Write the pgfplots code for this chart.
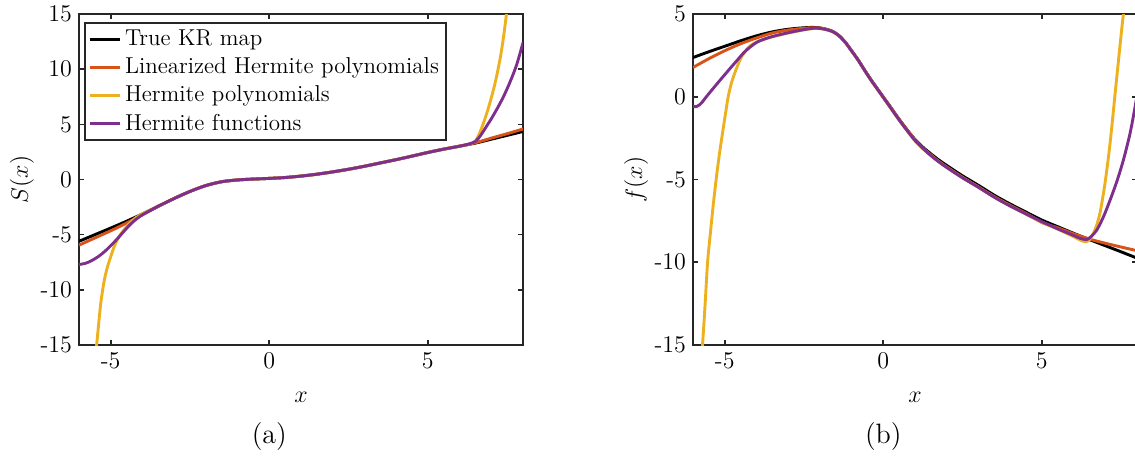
\documentclass[border=0pt]{standalone}
\usepackage{pgfplots}
\pgfplotsset{compat=1.18}

\definecolor{mblack}{rgb}{0,0,0}
\definecolor{morange}{rgb}{0.850,0.325,0.098}
\definecolor{myellow}{rgb}{0.929,0.694,0.125}
\definecolor{mpurple}{rgb}{0.494,0.184,0.556}
\definecolor{axgray}{rgb}{0.15,0.15,0.15}

\pgfplotsset{
  panel/.style={
    scale only axis,
    width=222pt, height=165.5pt,
    xmin=-6, xmax=8,
    xtick={-5,0,5}, xticklabels={-5,0,5},
    tick align=inside,
    major tick length=2.6pt,
    axis line style={draw=axgray, line width=0.8pt},
    every tick/.style={draw=axgray, line width=0.8pt},
    tick label style={font=\fontsize{12}{14}\selectfont},
    label style={font=\fontsize{12}{14}\selectfont},
    xlabel={$x$},
    xlabel style={at={(axis description cs:0.5,0)}, anchor=center, yshift=-26pt},
    ylabel style={at={(axis description cs:0,0.5)}, anchor=center, yshift=28.5pt},
    clip mode=individual,
    every axis plot/.append style={line width=1.45pt, line join=round, smooth, tension=0.5},
    legend image code/.code={\draw[#1, sharp plot] (0pt,0pt) -- (15pt,0pt);},
  },
}

\begin{document}
\begin{tikzpicture}
\useasboundingbox (-39.5pt,-56pt) rectangle (528pt,172.5pt);
\clip (-39.5pt,-56pt) rectangle (528pt,172.5pt);

% ---------------- (a) the map S(x) ----------------
\begin{axis}[panel, at={(0pt,0pt)}, anchor=south west,
  ymin=-15, ymax=15,
  ytick={-15,-10,-5,0,5,10,15}, yticklabels={-15,-10,-5,0,5,10,15},
  ylabel={$S(x)$},
  legend cell align=left,
  legend style={at={(0.012,0.976)}, anchor=north west,
    draw=axgray, line width=0.8pt, inner sep=1.5pt,
    font=\fontsize{11.5}{13}\selectfont, row sep=0.6pt},
]
\addplot[mblack] coordinates {
(-6,-5.6) (-5.5,-5.0) (-5,-4.4) (-4.5,-3.78) (-4,-3.12) (-3.5,-2.42) (-3,-1.72)
(-2.5,-1.08) (-2,-0.55) (-1.5,-0.2) (-1,-0.04) (-0.5,0.04) (0,0.1) (0.5,0.18)
(1,0.31) (1.5,0.48) (2,0.69) (2.5,0.93) (3,1.2) (3.5,1.5) (4,1.8) (4.5,2.12)
(5,2.45) (5.5,2.75) (6,3.02) (6.5,3.3) (7,3.65) (7.5,4.0) (8,4.35)};
\addlegendentry{True KR map}

\addplot[morange] coordinates {
(-6,-5.95) (-5.5,-5.3) (-5,-4.65) (-4.5,-3.95) (-4,-3.2) (-3.5,-2.44) (-3,-1.72)
(-2.5,-1.08) (-2,-0.55) (-1.5,-0.2) (-1,-0.04) (-0.5,0.04) (0,0.1) (0.5,0.18)
(1,0.31) (1.5,0.48) (2,0.69) (2.5,0.93) (3,1.2) (3.5,1.5) (4,1.8) (4.5,2.12)
(5,2.45) (5.5,2.75) (6,3.03) (6.5,3.33) (7,3.75) (7.5,4.15) (8,4.58)};
\addlegendentry{Linearized Hermite polynomials}

\addplot[myellow] coordinates {
(-5.47,-15.8) (-5.44,-14.9) (-5.35,-12.2) (-5.3,-10.9) (-5.2,-9.1) (-5.1,-7.9)
(-5.0,-7.0) (-4.9,-6.15) (-4.8,-5.5) (-4.7,-5.02) (-4.6,-4.62) (-4.5,-4.27)
(-4.4,-3.96) (-4.3,-3.68) (-4.2,-3.45) (-4.1,-3.27) (-4,-3.12) (-3.5,-2.42) (-3,-1.72)
(-2.5,-1.08) (-2,-0.55) (-1.5,-0.2) (-1,-0.04) (-0.5,0.04) (0,0.1) (0.5,0.18)
(1,0.31) (1.5,0.48) (2,0.69) (2.5,0.93) (3,1.2) (3.5,1.5) (4,1.8) (4.5,2.12)
(5,2.45) (5.5,2.75) (6,3.02) (6.3,3.2) (6.4,3.3) (6.5,3.5) (6.6,4.0) (6.7,4.7)
(6.8,5.5) (6.9,6.4) (7.0,7.4) (7.1,8.5) (7.2,9.8) (7.3,11.3) (7.4,13.2)
(7.5,15.5)};
\addlegendentry{Hermite polynomials}

\addplot[mpurple] coordinates {
(-6,-7.7) (-5.8,-7.6) (-5.6,-7.35) (-5.4,-7.0) (-5.2,-6.55) (-5.0,-6.0)
(-4.8,-5.4) (-4.6,-4.75) (-4.4,-4.12) (-4.2,-3.6) (-4,-3.2) (-3.8,-2.88) (-3.5,-2.42)
(-3,-1.72) (-2.5,-1.08) (-2,-0.55) (-1.5,-0.2) (-1,-0.04) (-0.5,0.04) (0,0.1) (0.5,0.18)
(1,0.31) (1.5,0.48) (2,0.69) (2.5,0.93) (3,1.2) (3.5,1.5) (4,1.8) (4.5,2.12)
(5,2.45) (5.5,2.75) (6,3.02) (6.3,3.22) (6.5,3.45) (6.6,3.75) (6.7,4.15)
(6.8,4.6) (6.9,5.05) (7.0,5.5) (7.2,6.5) (7.4,7.6) (7.6,8.9) (7.8,10.4) (8.0,12.4)};
\addlegendentry{Hermite functions}

\node[font=\fontsize{14}{16}\selectfont] at (axis cs:0,-15) [yshift=-46pt] {(a)};
\end{axis}

% ---------------- (b) the function f(x) ----------------
\begin{axis}[panel, at={(307pt,0pt)}, anchor=south west,
  ymin=-15, ymax=5,
  ytick={-15,-10,-5,0,5}, yticklabels={-15,-10,-5,0,5},
  ylabel={$f(x)$},
]
\addplot[mblack] coordinates {
(-6,2.37) (-5.5,2.72) (-5,3.05) (-4.5,3.38) (-4,3.68) (-3.5,3.92) (-3,4.08)
(-2.5,4.17) (-2.2,4.19) (-2,4.16) (-1.8,4.08) (-1.6,3.95) (-1.4,3.7) (-1.2,3.3)
(-1,2.78) (-0.8,2.25) (-0.6,1.64) (-0.4,1.06) (-0.2,0.52) (0,-0.02) (0.2,-0.55)
(0.4,-1.1) (0.6,-1.62) (0.8,-2.12) (1,-2.58) (1.25,-3.05) (1.5,-3.45) (1.75,-3.82)
(2,-4.15) (2.5,-4.78) (3,-5.35) (3.5,-5.95) (4,-6.48) (4.5,-6.97) (5,-7.45)
(5.5,-7.85) (6,-8.25) (6.5,-8.63) (7,-9.0) (7.5,-9.37) (8,-9.75)};

\addplot[morange] coordinates {
(-6,1.77) (-5.5,2.3) (-5,2.78) (-4.5,3.2) (-4,3.55) (-3.5,3.85) (-3,4.03)
(-2.5,4.14) (-2.2,4.17) (-2,4.15) (-1.8,4.08) (-1.6,3.95) (-1.4,3.7) (-1.2,3.3)
(-1,2.78) (-0.8,2.25) (-0.6,1.64) (-0.4,1.06) (-0.2,0.52) (0,-0.02) (0.2,-0.55)
(0.4,-1.1) (0.6,-1.62) (0.8,-2.12) (1,-2.6) (1.25,-3.1) (1.5,-3.52) (1.75,-3.9)
(2,-4.24) (2.5,-4.87) (3,-5.45) (3.5,-6.04) (4,-6.56) (4.5,-7.05) (4.8,-7.38)
(5.0,-7.6) (5.2,-7.74) (5.5,-7.92) (6,-8.28) (6.5,-8.6) (7,-8.85) (7.5,-9.08)
(8,-9.3)};

\addplot[myellow] coordinates {
(-5.73,-15.6) (-5.7,-15.0) (-5.62,-12.6) (-5.54,-10.0) (-5.45,-8.2) (-5.36,-6.5)
(-5.27,-5.0) (-5.17,-3.5) (-5.05,-1.95) (-4.97,-0.95) (-4.89,0.0) (-4.8,0.75)
(-4.7,1.35) (-4.6,1.85) (-4.5,2.3) (-4.4,2.62) (-4.3,2.88) (-4.2,3.08) (-4.1,3.2)
(-4,3.3) (-3.8,3.45) (-3.5,3.62) (-3,3.85) (-2.5,4.04) (-2.2,4.12) (-2,4.12)
(-1.8,4.05) (-1.6,3.93) (-1.4,3.68) (-1.2,3.28) (-1,2.76) (-0.8,2.22) (-0.6,1.62)
(-0.4,1.03) (-0.2,0.48) (0,-0.06) (0.2,-0.6) (0.4,-1.15) (0.6,-1.68) (0.8,-2.18)
(1,-2.66) (1.25,-3.14) (1.5,-3.55) (1.75,-3.93) (2,-4.27) (2.5,-4.9) (3,-5.47)
(3.5,-6.07) (4,-6.6) (4.5,-7.1) (5,-7.58) (5.5,-8.0) (6,-8.45) (6.2,-8.65)
(6.39,-8.77) (6.5,-8.62) (6.62,-8.27) (6.73,-7.75) (6.83,-7.06) (6.91,-6.2)
(6.99,-5.24) (7.07,-4.1) (7.15,-2.82) (7.23,-1.35) (7.31,0.2) (7.39,1.7)
(7.47,3.2) (7.53,4.3) (7.57,5.0) (7.6,5.6)};

\addplot[mpurple] coordinates {
(-6,-0.58) (-5.9,-0.6) (-5.8,-0.5) (-5.7,-0.3) (-5.6,-0.05) (-5.4,0.42) (-5.2,0.88)
(-5,1.33) (-4.8,1.78) (-4.6,2.22) (-4.4,2.66) (-4.2,3.0) (-4,3.28) (-3.8,3.45)
(-3.5,3.64) (-3,3.87) (-2.5,4.06) (-2.2,4.14) (-2,4.13) (-1.8,4.06) (-1.6,3.94)
(-1.4,3.69) (-1.2,3.29) (-1,2.77) (-0.8,2.23) (-0.6,1.63) (-0.4,1.04) (-0.2,0.5)
(0,-0.04) (0.2,-0.58) (0.4,-1.13) (0.6,-1.66) (0.8,-2.16) (1,-2.64) (1.25,-3.12)
(1.5,-3.55) (1.75,-3.93) (2,-4.27) (2.5,-4.9) (3,-5.47) (3.5,-6.07) (4,-6.6)
(4.5,-7.08) (5,-7.55) (5.5,-7.98) (6,-8.38) (6.2,-8.55) (6.41,-8.63) (6.55,-8.45)
(6.73,-8.06) (6.94,-7.26) (7.15,-6.25) (7.36,-5.14) (7.57,-3.83) (7.78,-2.22)
(7.94,-0.6) (8.0,0.1)};

\node[font=\fontsize{14}{16}\selectfont] at (axis cs:0,-15) [yshift=-46pt] {(b)};
\end{axis}
\end{tikzpicture}
\end{document}
